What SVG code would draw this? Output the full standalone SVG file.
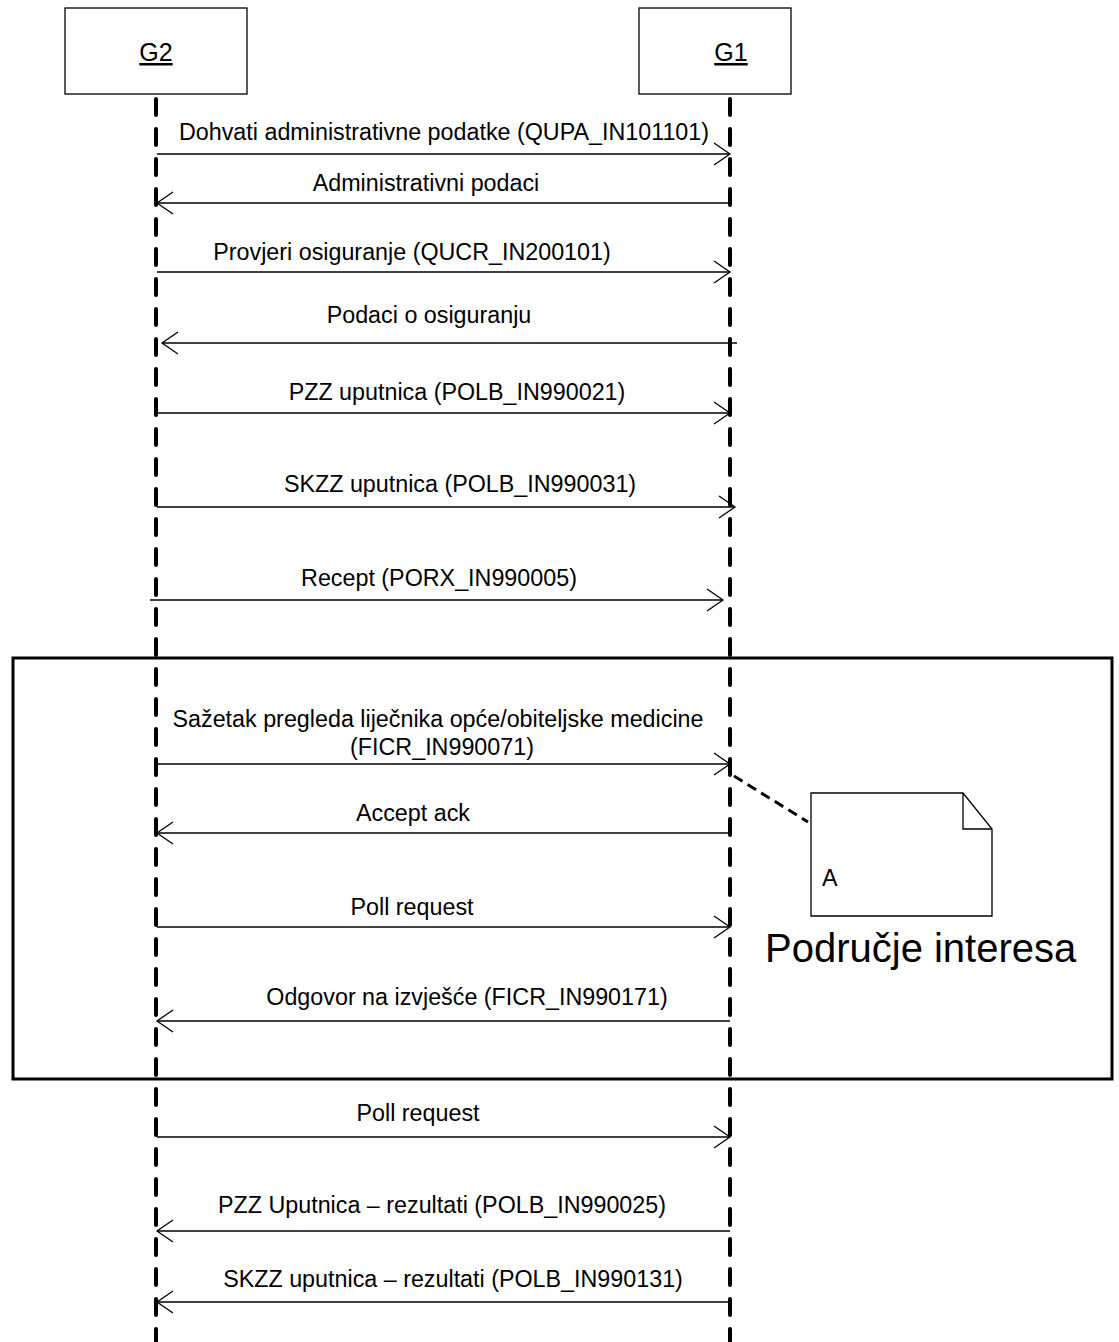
<svg xmlns="http://www.w3.org/2000/svg" width="1119" height="1342" viewBox="0 0 1119 1342">
<style>
text{font-family:"Liberation Sans",Arial,sans-serif;font-size:23.3px;fill:#000}
.lbl{text-anchor:middle}
.life{stroke:#000;stroke-width:4;stroke-dasharray:16 14;stroke-linecap:round;fill:none}
.msg{stroke:#000;stroke-width:1.3;fill:none}
.box{fill:#fff;stroke:#000;stroke-width:1.3}
.big{font-size:25px}
</style>
<defs>
<marker id="ah" markerUnits="userSpaceOnUse" viewBox="-17 -12 19 24" markerWidth="19" markerHeight="24" refX="0" refY="0" orient="auto">
<path d="M-16,-11 L0,0 L-16,11" fill="none" stroke="#000" stroke-width="1.3"/>
</marker>
</defs>
<rect x="0" y="0" width="1119" height="1342" fill="#fff"/>
<g id="region">
<rect x="13" y="658" width="1099" height="421" fill="none" stroke="#000" stroke-width="3"/>
<text x="765" y="962" style="font-size:40px">Područje interesa</text>
</g>
<g id="G2">
<rect class="box" x="65" y="8" width="182" height="86"/>
<text x="156" y="61" class="lbl big" text-decoration="underline">G2</text>
</g>
<g id="G1">
<rect class="box" x="639" y="8" width="152" height="86"/>
<text x="731" y="61" class="lbl big" text-decoration="underline">G1</text>
</g>
<g id="lifelines">
<line class="life" x1="156" y1="96" x2="156" y2="1350" stroke-dashoffset="-3"/>
<line class="life" x1="730" y1="96" x2="730" y2="1350" stroke-dashoffset="-3"/>
</g>
<g id="noteA">
<path d="M811,793 L963,793 L992,829 L992,916 L811,916 Z" fill="#fff" stroke="#000" stroke-width="1.3"/>
<path d="M963,793 L963,829 L992,829" fill="none" stroke="#000" stroke-width="1.3"/>
<text x="822" y="886">A</text>
</g>
<g id="connectors">
<line x1="734" y1="776" x2="808" y2="822" stroke="#000" stroke-width="3" stroke-dasharray="10 6"/>
<line class="msg" x1="157" y1="154" x2="730" y2="154" marker-end="url(#ah)"/>
<line class="msg" x1="730" y1="203" x2="157" y2="203" marker-end="url(#ah)"/>
<line class="msg" x1="157" y1="272" x2="730" y2="272" marker-end="url(#ah)"/>
<line class="msg" x1="737" y1="343" x2="162" y2="343" marker-end="url(#ah)"/>
<line class="msg" x1="157" y1="413" x2="730" y2="413" marker-end="url(#ah)"/>
<line class="msg" x1="157" y1="507" x2="735" y2="507" marker-end="url(#ah)"/>
<line class="msg" x1="150" y1="600" x2="723" y2="600" marker-end="url(#ah)"/>
<line class="msg" x1="157" y1="764" x2="730" y2="764" marker-end="url(#ah)"/>
<line class="msg" x1="730" y1="833" x2="157" y2="833" marker-end="url(#ah)"/>
<line class="msg" x1="157" y1="927" x2="730" y2="927" marker-end="url(#ah)"/>
<line class="msg" x1="730" y1="1021" x2="157" y2="1021" marker-end="url(#ah)"/>
<line class="msg" x1="157" y1="1137" x2="730" y2="1137" marker-end="url(#ah)"/>
<line class="msg" x1="730" y1="1231" x2="157" y2="1231" marker-end="url(#ah)"/>
<line class="msg" x1="730" y1="1302" x2="157" y2="1302" marker-end="url(#ah)"/>
</g>
<g id="labels">
<text class="lbl" x="444" y="140">Dohvati administrativne podatke (QUPA_IN101101)</text>
<text class="lbl" x="426" y="191">Administrativni podaci</text>
<text class="lbl" x="412" y="260">Provjeri osiguranje (QUCR_IN200101)</text>
<text class="lbl" x="429" y="323">Podaci o osiguranju</text>
<text class="lbl" x="457" y="400">PZZ uputnica (POLB_IN990021)</text>
<text class="lbl" x="460" y="492">SKZZ uputnica (POLB_IN990031)</text>
<text class="lbl" x="439" y="586">Recept (PORX_IN990005)</text>
<text class="lbl" x="438" y="727">Sažetak pregleda liječnika opće/obiteljske medicine</text>
<text class="lbl" x="442" y="755">(FICR_IN990071)</text>
<text class="lbl" x="413" y="821">Accept ack</text>
<text class="lbl" x="412" y="915">Poll request</text>
<text class="lbl" x="467" y="1005">Odgovor na izvješće (FICR_IN990171)</text>
<text class="lbl" x="418" y="1121">Poll request</text>
<text class="lbl" x="442" y="1213">PZZ Uputnica – rezultati (POLB_IN990025)</text>
<text class="lbl" x="453" y="1287">SKZZ uputnica – rezultati (POLB_IN990131)</text>
</g>
</svg>
